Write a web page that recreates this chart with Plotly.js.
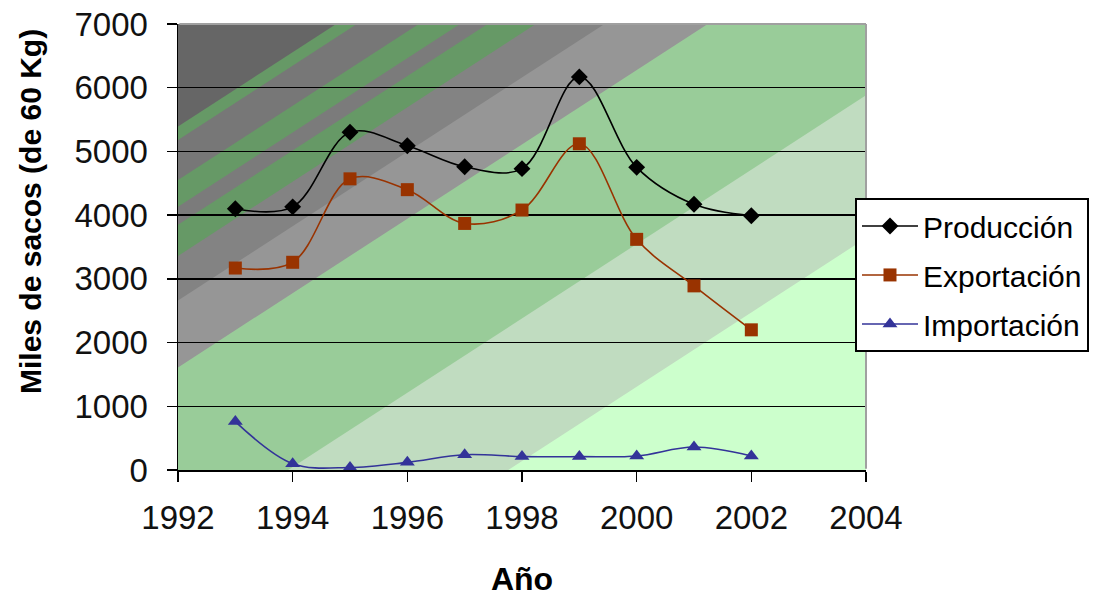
<!DOCTYPE html>
<html><head><meta charset="utf-8">
<script src="https://cdn.plot.ly/plotly-3.0.1.min.js"></script>
<style>html,body{margin:0;padding:0;background:#fff}#chart{width:1102px;height:597px}</style>
</head><body><div id="chart"></div>
<script>
// ---- data ----
const years = [1993, 1994, 1995, 1996, 1997, 1998, 1999, 2000, 2001, 2002];
const produccion = [4100, 4130, 5300, 5090, 4760, 4730, 6170, 4750, 4170, 3990];
const exportacion = [3170, 3260, 4570, 4400, 3870, 4080, 5120, 3620, 2890, 2200];
const importacion = [760, 100, 40, 120, 240, 210, 210, 220, 360, 220];
const seriesNames = ['Producción', 'Exportación', 'Importación'];
const xTickVals = [1992, 1994, 1996, 1998, 2000, 2002, 2004];
const yTickVals = [0, 1000, 2000, 3000, 4000, 5000, 6000, 7000];
const xTitle = 'Año';
const yTitle = 'Miles de sacos (de 60 Kg)';

// ---- background bands (diagonal gradient, quantized) ----
const bandStarts = [-0.77, -0.74, -0.65, -0.59, -0.55, -0.48, -0.38, -0.23, 0.16, 0.48];
const bandColors = ['#666666', '#669966', '#777777', '#669966', '#7b7b7b', '#669966', '#838383', '#969696', '#99cc99', '#c0dcc0', '#ccffcc'];

function halfPlane(a) {
  const sq = [[0,0],[1,0],[1,1],[0,1]];
  const f = p => p[0] - p[1] - a;
  const out = [];
  for (let i = 0; i < sq.length; i++) {
    const p = sq[i], q = sq[(i + 1) % sq.length];
    const fp = f(p), fq = f(q);
    if (fp >= 0) out.push(p);
    if ((fp >= 0) !== (fq >= 0)) {
      const t = fp / (fp - fq);
      out.push([p[0] + t * (q[0] - p[0]), p[1] + t * (q[1] - p[1])]);
    }
  }
  return out;
}
const shapes = [{type:'rect', xref:'paper', yref:'paper', x0:0, x1:1, y0:0, y1:1,
  fillcolor: bandColors[0], line:{width:0}, layer:'below'}];
bandStarts.forEach((a, i) => {
  const poly = halfPlane(a);
  if (poly.length < 3) return;
  const path = 'M' + poly.map(p => p[0].toFixed(5) + ',' + p[1].toFixed(5)).join('L') + 'Z';
  shapes.push({type:'path', xref:'paper', yref:'paper', path, fillcolor: bandColors[i + 1], line:{width:0}, layer:'below'});
});
// grey plot-area border on top and right
shapes.push({type:'line', xref:'paper', yref:'paper', x0:0.002, x1:1, y0:1, y1:1,
  line:{color:'#a0a0a0', width:2}, layer:'above'});
shapes.push({type:'line', xref:'paper', yref:'paper', x0:1, x1:1, y0:0.003, y1:1,
  line:{color:'#a0a0a0', width:2}, layer:'above'});

const font = 'Liberation Sans, Arial, sans-serif';
const mk = (name, y, color, symbol) => ({
  x: years, y, name, legendgroup: name, type:'scatter', mode:'lines+markers',
  line:{color, width:1.6, shape:'spline', smoothing:1},
  marker:{color, symbol, size:13}
});
const data = [
  mk(seriesNames[0], produccion, '#000000', 'diamond'),
  mk(seriesNames[1], exportacion, '#993300', 'square'),
  mk(seriesNames[2], importacion, '#333399', 'triangle-up')
];

const layout = {
  width:1102, height:597,
  margin:{l:178, r:236, t:24, b:127},
  paper_bgcolor:'#ffffff', plot_bgcolor:'rgba(0,0,0,0)',
  font:{family:font, color:'#000'},
  showlegend:true,
  legend:{x:0.984, xanchor:'left', y:0.61, yanchor:'top',
    bgcolor:'#ffffff', bordercolor:'#000', borderwidth:2, itemwidth:56,
    font:{family:font, size:30, color:'#000'}, tracegroupgap:7},
  xaxis:{range:[1992, 2004], tickvals:xTickVals, ticktext:xTickVals.map(String),
    showgrid:false, zeroline:false, showline:true, linecolor:'#000', linewidth:1.5,
    ticks:'outside', ticklen:10, tickwidth:1.5, tickcolor:'#000',
    tickfont:{family:font, size:33, color:'#111'}, ticklabelstandoff:8,
    title:{text:xTitle, font:{family:font, size:32, color:'#000', weight:'bold'}, standoff:32}},
  yaxis:{range:[0, 7000], tickvals:yTickVals, ticktext:yTickVals.map(String),
    showgrid:true, gridcolor:'#000', gridwidth:1.5,
    zeroline:false, showline:true, linecolor:'#000', linewidth:1.5,
    ticks:'outside', ticklen:10, tickwidth:1.5, tickcolor:'#000',
    tickfont:{family:font, size:33, color:'#111'}, ticklabelstandoff:12},
  annotations:[{text:yTitle, xref:'paper', yref:'paper', x:(30 - 178) / 688, y:(470 - 212) / 446,
    xanchor:'center', yanchor:'middle', textangle:-90, showarrow:false,
    font:{family:font, size:30, color:'#000', weight:'bold'}}],
  shapes
};
Plotly.newPlot('chart', data, layout, {displayModeBar:false, staticPlot:true});
</script>
</body></html>
